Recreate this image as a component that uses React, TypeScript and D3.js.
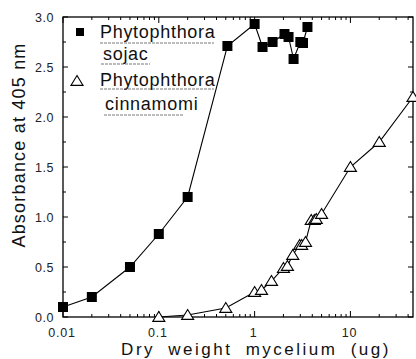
import React from "react";
import * as d3 from "d3";

const sojaeX = [0.01, 0.02, 0.05, 0.1, 0.2, 0.52, 1.0, 1.21, 1.54, 2.05, 2.26, 2.55, 3.0, 3.2, 3.56];
const sojaeY = [0.1, 0.2, 0.5, 0.83, 1.2, 2.71, 2.93, 2.7, 2.75, 2.83, 2.8, 2.58, 2.75, 2.74, 2.9];
const cinnX = [0.1, 0.2, 0.5, 1.0, 1.18, 1.5, 2.0, 2.2, 2.5, 2.95, 3.1, 3.4, 3.9, 4.2, 4.4, 5.0, 10, 20, 45];
const cinnY = [0.0, 0.02, 0.09, 0.25, 0.27, 0.36, 0.49, 0.51, 0.62, 0.72, 0.72, 0.75, 0.97, 0.97, 0.98, 1.03, 1.5, 1.75, 2.2];
const yTicks = [0, 0.5, 1.0, 1.5, 2.0, 2.5, 3.0];
const xTicks = [0.01, 0.1, 1, 10];
const xTickLabels = ["0.01", "0.1", "1", "10"];

const L = 63, R = 413, T = 17, B = 317;
const FONT = "Liberation Sans, Arial, sans-serif";

export default function App() {
  const x = d3.scaleLog().domain([0.01, 45]).range([L, R]);
  const y = d3.scaleLinear().domain([0, 3]).range([B, T]);
  const line = d3.line<[number, number]>().x(d => x(d[0])).y(d => y(d[1]));
  const sData = sojaeX.map((v, i) => [v, sojaeY[i]] as [number, number]);
  const cData = cinnX.map((v, i) => [v, cinnY[i]] as [number, number]);

  const minorX: number[] = [];
  for (let e = -2; e <= 1; e++) {
    for (let k = 1; k <= 9; k++) {
      const v = k * Math.pow(10, e);
      if (v >= 0.01 && v <= 45) minorX.push(v);
    }
  }
  const minorY = d3.range(0, 3.001, 0.25);
  const tri = (cx: number, cy: number) => {
    const s = 5.5;
    return `M${cx},${cy - s}L${cx + s * 1.1},${cy + s * 0.8}L${cx - s * 1.1},${cy + s * 0.8}Z`;
  };

  return (
    <svg width={416} height={359} style={{ position: "absolute", left: 0, top: 0, background: "#fff" }}>
      <rect x={0} y={0} width={416} height={359} fill="#fff" />
      <rect x={L} y={T} width={R - L} height={B - T} fill="none" stroke="#000" strokeWidth={1.3} />
      {minorX.map((v, i) => {
        const major = xTicks.includes(v);
        const len = major ? 6 : 3;
        return (
          <g key={"mx" + i}>
            <line x1={x(v)} x2={x(v)} y1={B} y2={B - len} stroke="#000" strokeWidth={1} />
            <line x1={x(v)} x2={x(v)} y1={T} y2={T + len} stroke="#000" strokeWidth={1} />
          </g>
        );
      })}
      {minorY.map((v, i) => {
        const major = Math.abs(v * 2 - Math.round(v * 2)) < 1e-6;
        const len = major ? 5 : 3;
        return (
          <g key={"my" + i}>
            <line x1={L} x2={L + len} y1={y(v)} y2={y(v)} stroke="#000" strokeWidth={1} />
            <line x1={R} x2={R - len} y1={y(v)} y2={y(v)} stroke="#000" strokeWidth={1} />
          </g>
        );
      })}
      {yTicks.map((v, i) => (
        <text key={"yl" + i} x={54} y={y(v) + 4.5} textAnchor="end" fontFamily={FONT} fontSize={12.5} letterSpacing={0.5} fill="#222">
          {v.toFixed(1)}
        </text>
      ))}
      {xTicks.map((v, i) => (
        <text key={"xl" + i} x={x(v) - 1} y={337} textAnchor="middle" fontFamily={FONT} fontSize={12.5} letterSpacing={0.8} fill="#222">
          {xTickLabels[i]}
        </text>
      ))}
      <text x={256} y={355} textAnchor="middle" fontFamily={FONT} fontSize={17} letterSpacing={2.5} wordSpacing={6} fill="#111">
        Dry weight mycelium (ug)
      </text>
      <text
        transform={`translate(25,145) rotate(-90)`}
        textAnchor="middle"
        fontFamily={FONT}
        fontSize={18}
        letterSpacing={1.2}
        fill="#111"
      >
        Absorbance at 405 nm
      </text>
      <path d={line(sData) || ""} fill="none" stroke="#000" strokeWidth={1.1} />
      <path d={line(cData) || ""} fill="none" stroke="#000" strokeWidth={1.1} />
      {sData.map((d, i) => (
        <rect key={"s" + i} x={x(d[0]) - 5} y={y(d[1]) - 5} width={10} height={10} fill="#000" />
      ))}
      {cData.map((d, i) => (
        <path key={"c" + i} d={tri(x(d[0]), y(d[1]))} fill="#fff" stroke="#000" strokeWidth={1.1} />
      ))}
      <rect x={76} y={28} width={8} height={8} fill="#000" />
      <text x={100} y={38} fontFamily={FONT} fontSize={18} letterSpacing={0.7} fill="#111">Phytophthora</text>
      <line x1={100} x2={214} y1={43} y2={43} stroke="#555" strokeWidth={0.8} strokeDasharray="3,1" />
      <text x={103} y={60} fontFamily={FONT} fontSize={18} letterSpacing={0.7} fill="#111">sojac</text>
      <line x1={101} x2={150} y1={64} y2={64} stroke="#555" strokeWidth={0.8} strokeDasharray="3,1" />
      <path d={tri(77, 81)} fill="#fff" stroke="#000" strokeWidth={1.1} />
      <text x={100} y={86} fontFamily={FONT} fontSize={18} letterSpacing={0.7} fill="#111">Phytophthora</text>
      <line x1={100} x2={214} y1={89} y2={89} stroke="#555" strokeWidth={0.8} strokeDasharray="3,1" />
      <text x={105} y={110} fontFamily={FONT} fontSize={18} letterSpacing={0.7} fill="#111">cinnamomi</text>
      <line x1={104} x2={183} y1={115} y2={115} stroke="#555" strokeWidth={0.8} strokeDasharray="3,1" />
    </svg>
  );
}
